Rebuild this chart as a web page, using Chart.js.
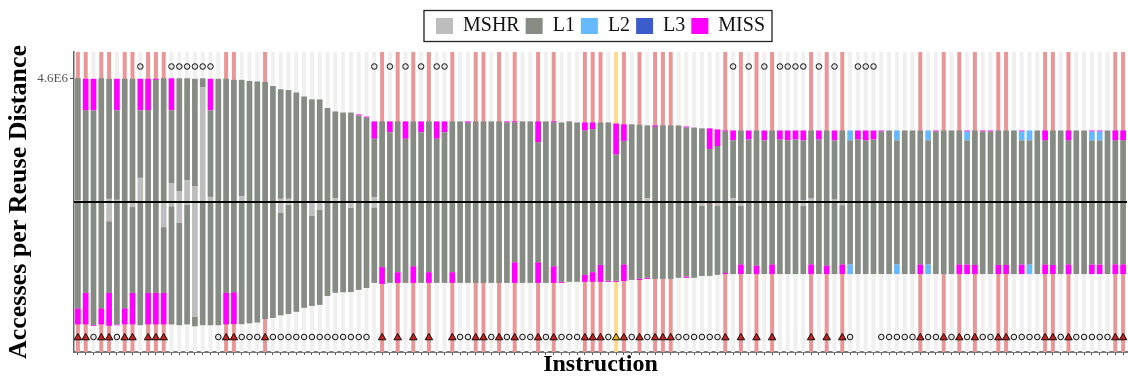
<!DOCTYPE html>
<html>
<head>
<meta charset="utf-8">
<script src="https://cdn.jsdelivr.net/npm/chart.js@4/dist/chart.umd.min.js"></script>
<style>
  html, body { margin: 0; padding: 0; background: #fff; }
  #wrap { width: 1128px; height: 377px; position: relative; }
</style>
</head>
<body>
<div id="wrap"><canvas id="c"></canvas></div>
<script>
// Instruction index along the x axis
const instructions = Array.from({ length: 135 }, (_, i) => i + 1);

// Accesses per reuse distance, in millions (1.0 = 1E6).
// Upper half: L1 hits per instruction
const topL1 = [
  4.56,3.42,3.42,4.62,4.48,3.34,4.60,4.60,2.52,3.42,4.56,4.62,2.71,4.21,3.81,
  4.02,0.33,3.23,4.60,4.60,4.56,4.35,4.52,4.50,4.48,4.33,4.09,4.06,4.09,3.94,
  3.83,3.83,3.51,3.23,3.34,3.34,3.23,3.15,2.19,3.01,2.60,3.01,2.36,3.01,2.60,
  3.01,2.36,2.60,3.01,3.01,2.96,3.01,3.01,3.01,3.01,2.97,2.97,3.01,3.01,2.23,
  3.01,2.97,2.97,3.01,2.97,2.67,2.72,2.97,2.97,1.77,2.28,2.90,2.88,2.72,2.81,
  2.86,2.86,2.86,2.78,2.78,2.75,1.98,2.09,2.63,2.16,2.67,2.33,2.67,2.30,2.67,
  2.33,2.30,2.33,2.24,2.53,2.33,2.67,2.21,2.67,2.30,2.33,2.30,2.33,2.63,2.67,
  2.30,2.67,2.67,2.67,2.30,2.63,2.67,2.67,2.67,2.30,2.67,2.63,2.63,2.67,2.67,
  2.67,2.30,2.30,2.67,2.30,2.67,2.67,2.30,2.67,2.67,2.30,2.30,2.67,2.30,2.30
];
// Upper half, sparse series: [instruction, value]
const topMSHR = [[1,0.06],[5,0.12],[6,0.08],[9,0.90],[13,0.71],[14,0.41],[15,0.81],[16,0.58],
  [17,4.29],[18,0.19],[22,0.21],[27,0.12],[28,0.12],[34,0.15],[39,0.17],[74,0.14],[85,0.14],
  [94,0.06],[95,0.14],[98,0.09]];
const topL2 = [[100,0.37],[106,0.37],[110,0.37],[115,0.33],[122,0.33],[123,0.37],[131,0.33],[132,0.33]];
const topL3 = [];
const topMISS = [[2,1.18],[3,1.18],[6,1.18],[9,1.18],[10,1.18],[11,0.04],[13,1.20],[18,1.18],
  [37,0.04],[38,0.04],[39,0.65],[41,0.41],[43,0.65],[45,0.41],[47,0.65],[48,0.41],[51,0.05],
  [56,0.04],[57,0.04],[60,0.78],[62,0.04],[66,0.30],[67,0.25],[70,1.16],[71,0.62],[75,0.05],
  [79,0.04],[82,0.77],[83,0.62],[84,0.04],[85,0.37],[87,0.34],[89,0.37],[91,0.34],[92,0.37],
  [93,0.34],[94,0.37],[96,0.34],[98,0.37],[101,0.34],[102,0.37],[103,0.34],[104,0.04],
  [111,0.04],[115,0.04],[117,0.04],[118,0.04],[122,0.04],[125,0.37],[128,0.37],[131,0.04],
  [132,0.04],[134,0.37],[135,0.37]];

// Lower half: L1 hits per instruction
const botL1 = [
  3.97,3.39,4.59,3.97,2.67,4.57,3.97,3.20,4.60,3.39,3.39,2.45,4.41,3.82,4.47,
  0.35,4.60,4.60,4.60,3.39,3.37,4.56,4.53,4.50,4.37,4.33,3.82,4.08,4.10,3.95,
  3.36,3.54,3.51,3.39,3.37,3.14,3.28,3.21,2.82,2.43,3.02,2.62,3.02,2.40,3.02,
  2.62,3.02,3.02,2.62,3.02,3.02,3.02,3.02,3.02,3.02,3.02,2.25,3.02,3.02,2.25,
  3.02,2.40,2.98,2.98,2.98,2.72,2.62,2.35,2.94,2.94,2.33,2.91,2.87,2.83,2.87,
  2.87,2.87,2.83,2.78,2.83,2.61,2.76,2.57,2.65,2.69,2.18,2.69,2.37,2.69,2.33,
  2.69,2.69,2.69,2.54,2.33,2.69,2.37,2.69,2.21,2.33,2.69,2.69,2.69,2.69,2.69,
  2.33,2.69,2.69,2.33,2.33,2.69,2.69,2.69,2.33,2.33,2.35,2.69,2.69,2.35,2.35,
  2.69,2.33,2.33,2.69,2.33,2.35,2.69,2.33,2.69,2.69,2.33,2.33,2.69,2.33,2.33
];
const botMSHR = [[5,0.72],[8,0.19],[12,0.94],[13,0.16],[14,0.78],[15,0.10],[16,4.29],[27,0.41],
  [28,0.10],[31,0.52],[32,0.30],[36,0.22],[39,0.20],[81,0.15],[83,0.15],[86,0.15],[94,0.15],[99,0.12]];
const botL2 = [[100,0.36],[106,0.36],[110,0.36],[123,0.36]];
const botMISS = [[1,0.60],[2,1.18],[3,0.03],[4,0.60],[5,1.23],[6,0.03],[7,0.60],[8,1.18],[10,1.18],
  [11,1.18],[12,1.18],[20,1.18],[21,1.19],[40,0.63],[42,0.40],[44,0.62],[46,0.40],[49,0.40],
  [57,0.77],[60,0.77],[62,0.62],[63,0.04],[66,0.26],[67,0.36],[68,0.63],[69,0.04],[70,0.04],
  [71,0.62],[73,0.04],[74,0.04],[79,0.05],[84,0.04],[86,0.36],[88,0.32],[90,0.36],[95,0.36],
  [97,0.32],[99,0.36],[109,0.36],[114,0.36],[115,0.36],[116,0.34],[119,0.34],[120,0.34],
  [122,0.36],[125,0.36],[126,0.34],[128,0.36],[131,0.36],[132,0.36],[134,0.36],[135,0.36]];

// Per-instruction marker: T = flagged (red triangle), Y = selected (amber triangle),
// b = circle below, t = circle above
const marks = (
  'TTbTTbTTtTTTttttttbTTbbbTb' +
  'bbbbbbbbbbbb' +
  'tTtTtTtTttTbbT' +
  'TbTbTbbTbTbbbTTTbYTbTbTTTbb' +
  'bbbbTtTtTtTttttTtTtTbtttbbbb' +
  'bTbbTbTbTbbTTbbbbTTbTbbbbbTT'
).split('');

const COLORS = { MSHR: '#bdbdbd', L1: '#868b84', L2: '#66b8ff', L3: '#3a5ccc', MISS: '#ff00ff' };

const expand = pairs => {
  const out = instructions.map(() => 0);
  pairs.forEach(([n, v]) => { out[n - 1] = v; });
  return out;
};
const bar = (label, values, color, down) => ({
  label,
  data: down ? values.map(v => -v) : values,
  backgroundColor: color,
  borderWidth: 0,
  stack: 'reuse',
  barPercentage: 0.73,
  categoryPercentage: 1
});

const datasets = [
  bar('MSHR', expand(topMSHR), COLORS.MSHR),
  bar('L1', topL1, COLORS.L1),
  bar('L2', expand(topL2), COLORS.L2),
  bar('L3', expand(topL3), COLORS.L3),
  bar('MISS', expand(topMISS), COLORS.MISS),
  bar('MSHR', expand(botMSHR), COLORS.MSHR, true),
  bar('L1', botL1, COLORS.L1, true),
  bar('L2', expand(botL2), COLORS.L2, true),
  bar('MISS', expand(botMISS), COLORS.MISS, true)
];

const stripeColor = m => m === 'T' ? '#e99697' : m === 'Y' ? '#ffd98e' : '#f0f0f0';

const decorations = {
  id: 'decorations',
  beforeLayout(chart) {
    // keep a fixed gap between the framed legend and the plot
    const lg = chart.legend;
    if (lg && !lg.$fixedFit) {
      const fit = lg.fit;
      lg.fit = function () { fit.call(this); this.height = 42; };
      lg.$fixedFit = true;
    }
  },
  beforeDatasetsDraw(chart) {
    const { ctx, chartArea: a, scales: { x } } = chart;
    ctx.save();
    marks.forEach((m, i) => {
      const px = x.getPixelForValue(i);
      ctx.fillStyle = stripeColor(m);
      ctx.fillRect(px - 2, a.top, 4, a.bottom - a.top);
    });
    ctx.restore();
  },
  afterDatasetsDraw(chart) {
    const { ctx, chartArea: a, scales: { x, y } } = chart;
    ctx.save();
    const y0 = y.getPixelForValue(0);
    ctx.strokeStyle = '#000';
    ctx.lineWidth = 2;
    ctx.beginPath();
    ctx.moveTo(a.left, y0);
    ctx.lineTo(a.right, y0);
    ctx.stroke();

    const yTop = a.top + 14.5, yBot = a.bottom - 15;
    ctx.lineWidth = 1;
    ctx.strokeStyle = '#111';
    marks.forEach((m, i) => {
      const px = x.getPixelForValue(i);
      ctx.beginPath();
      if (m === 'T' || m === 'Y') {
        ctx.fillStyle = m === 'T' ? '#c8201e' : '#f4b000';
        ctx.moveTo(px, yBot - 3.6);
        ctx.lineTo(px + 3.8, yBot + 2.8);
        ctx.lineTo(px - 3.8, yBot + 2.8);
        ctx.closePath();
      } else {
        ctx.fillStyle = '#e4e4e4';
        ctx.arc(px, m === 't' ? yTop : yBot, 2.8, 0, Math.PI * 2);
      }
      ctx.fill();
      ctx.stroke();
    });
    ctx.restore();
  },
  afterDraw(chart) {
    const boxes = chart.legend && chart.legend.legendHitBoxes;
    if (!boxes || !boxes.length) return;
    const l = Math.min(...boxes.map(b => b.left)) - 12;
    const r = Math.max(...boxes.map(b => b.left + b.width)) + 7;
    const t = Math.min(...boxes.map(b => b.top)) - 5.5;
    const btm = Math.max(...boxes.map(b => b.top + b.height)) + 5.5;
    const ctx = chart.ctx;
    ctx.save();
    ctx.strokeStyle = '#222';
    ctx.lineWidth = 1.3;
    ctx.strokeRect(l, t, r - l, btm - t);
    ctx.restore();
  }
};

Chart.defaults.font.family = "'Liberation Serif', 'DejaVu Serif', serif";

new Chart(document.getElementById('c'), {
  type: 'bar',
  data: { labels: instructions, datasets },
  plugins: [decorations],
  options: {
    responsive: true,
    maintainAspectRatio: false,
    animation: false,
    events: [],
    layout: { padding: { top: 10, right: 1, left: 0, bottom: 0 } },
    plugins: {
      tooltip: { enabled: false },
      legend: {
        position: 'top',
        fullSize: false,
        align: 'center',
        labels: {
          filter: item => item.datasetIndex < 5,
          font: { family: "'Liberation Serif', serif", size: 20 },
          color: '#111',
          boxWidth: 17,
          boxHeight: 16,
          padding: 6
        }
      }
    },
    scales: {
      x: {
        stacked: true,
        offset: true,
        grid: { display: true, drawOnChartArea: false, offset: false, drawTicks: true, tickLength: 3, color: '#555', lineWidth: 1 },
        border: { display: true, color: '#777', width: 2 },
        ticks: { display: false },
        title: {
          display: true,
          text: 'Instruction',
          color: '#000',
          font: { family: "'Liberation Serif', serif", size: 24, weight: 'bold', lineHeight: 1 },
          padding: { top: 0, bottom: 0 }
        },
        afterFit: s => { s.height = 25; }
      },
      y: {
        stacked: true,
        min: -5.6,
        max: 5.6,
        afterBuildTicks: s => { s.ticks = [{ value: 4.6 }]; },
        ticks: {
          callback: v => v.toFixed(1) + 'E6',
          font: { family: "'Liberation Serif', serif", size: 13 },
          color: '#555',
          padding: 2
        },
        grid: { drawOnChartArea: false, tickLength: 4, color: '#444' },
        border: { color: '#666', width: 1.5 },
        title: {
          display: true,
          text: 'Accesses per Reuse Distance',
          color: '#000',
          font: { family: "'Liberation Serif', serif", size: 26, weight: 'bold', lineHeight: 1 },
          padding: { top: 6.5, bottom: 0 }
        },
        afterFit: s => { s.width = 74; }
      }
    }
  }
});
</script>
</body>
</html>
